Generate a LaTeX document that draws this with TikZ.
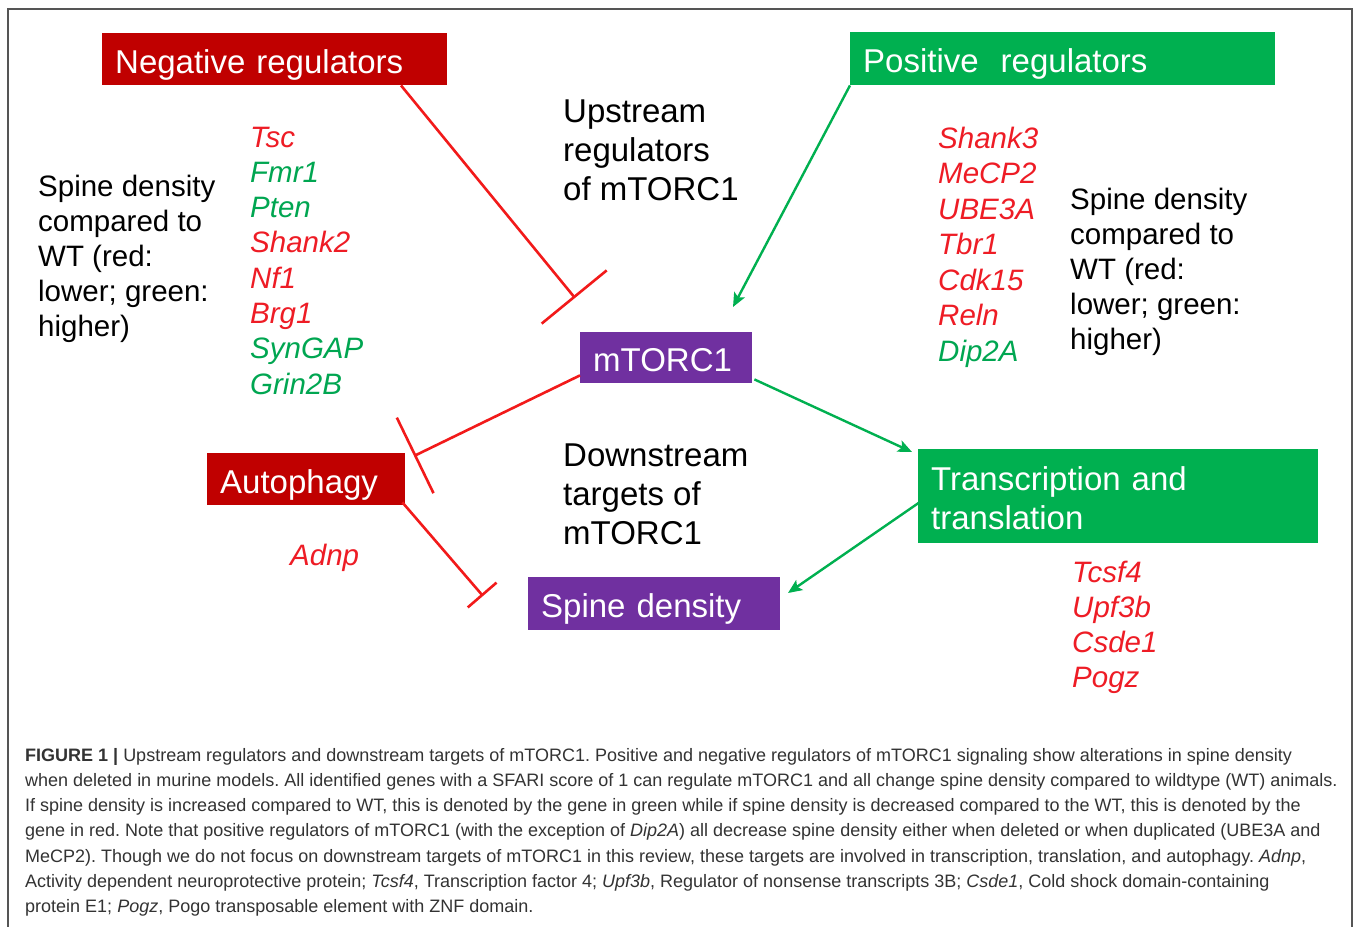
\documentclass[tikz,border=0pt]{standalone}
\usepackage{fontspec}
\setmainfont{Liberation Sans}
\usetikzlibrary{arrows.meta,calc}
\definecolor{boxred}{HTML}{C00000}
\definecolor{boxgreen}{HTML}{00B050}
\definecolor{boxpurple}{HTML}{7030A0}
\definecolor{genered}{HTML}{EE1C25}
\definecolor{genegreen}{HTML}{00A651}
\definecolor{linered}{HTML}{F21A1A}
\definecolor{linegreen}{HTML}{00B050}
\definecolor{captext}{HTML}{333333}
\definecolor{framegray}{HTML}{555555}
\frenchspacing
\begin{document}
\begin{tikzpicture}[x=1pt,y=-1pt,
  box/.style={rectangle, anchor=north west, text=white, inner xsep=13pt, inner ysep=0pt,
    align=left, font=\fontsize{33}{39}\selectfont, text height=30pt, text depth=2pt},
  gene/.style={anchor=base west, inner sep=0pt, font=\fontsize{29.5}{35}\selectfont\itshape},
  note/.style={anchor=base west, inner sep=0pt, font=\fontsize{29.5}{35}\selectfont},
  bignote/.style={anchor=base west, inner sep=0pt, font=\fontsize{33}{39}\selectfont},
  capline/.style={anchor=base west, inner sep=0pt, text=captext, font=\fontsize{18}{25.3}\selectfont},
  inhib/.style={draw=linered, line width=2.6pt},
  activ/.style={draw=linegreen, line width=2.4pt, -{Stealth[length=14pt,width=12pt,inset=3pt]}}
]
\useasboundingbox (0,0) rectangle (1354,926);
\fill[white] (0,0) rectangle (1354,926);
\draw[framegray, line width=1.5pt] (8,930) -- (8,9) -- (1352,9) -- (1352,930);

% boxes
\node[box, fill=boxred, text width=319pt, minimum height=52pt] (neg) at (102,33) {Negative regulators};
\node[box, fill=boxgreen, text width=399pt, minimum height=53pt] (pos) at (850,32) {Positive\ \ regulators};
\node[box, fill=boxpurple, text width=146pt, minimum height=51pt] (mt) at (580,332) {mTORC1};
\node[box, fill=boxred, text width=172pt, minimum height=52pt] (au) at (207,453) {Autophagy};
\node[box, fill=boxgreen, text width=374pt, minimum height=94pt, text height=30pt, text depth=42pt] (tt) at (918,449) {Transcription and\\translation};
\node[box, fill=boxpurple, text width=226pt, minimum height=53pt] (sd) at (528,577) {Spine density};

% left gene list
\foreach \g/\c [count=\i from 0] in {Tsc/genered, Fmr1/genegreen, Pten/genegreen, Shank2/genered, Nf1/genered, Brg1/genered, SynGAP/genegreen, Grin2B/genegreen}
  \node[gene, text=\c] (lg\i) at (250,{147+35.3*\i}) {\g};
% right gene list
\foreach \g/\c [count=\i from 0] in {Shank3/genered, MeCP2/genered, UBE3A/genered, Tbr1/genered, Cdk15/genered, Reln/genered, Dip2A/genegreen}
  \node[gene, text=\c] (rg\i) at (938,{148+35.5*\i}) {\g};
% downstream gene list
\foreach \g [count=\i from 0] in {Tcsf4, Upf3b, Csde1, Pogz}
  \node[gene, text=genered] (dg\i) at (1072,{582+35.3*\i}) {\g};
\node[gene, text=genered] (adnp) at (290,565) {Adnp};

% legends
\foreach \t [count=\i from 0] in {{Spine density}, {compared to}, {WT (red:}, {lower; green:}, {higher)}}
  \node[note] (ls\i) at (38,{196+35*\i}) {\t};
\foreach \t [count=\i from 0] in {{Spine density}, {compared to}, {WT (red:}, {lower; green:}, {higher)}}
  \node[note] (rs\i) at (1070,{209+35*\i}) {\t};
\foreach \t [count=\i from 0] in {{Upstream}, {regulators}, {of mTORC1}}
  \node[bignote] (up\i) at (563,{122+39*\i}) {\t};
\foreach \t [count=\i from 0] in {{Downstream}, {targets of}, {mTORC1}}
  \node[bignote] (dn\i) at (563,{466+39*\i}) {\t};

% connector end points
\coordinate (nb1) at (575,298);
\coordinate (nb2) at (414,456);
\coordinate (nb3) at (483,596);
\coordinate (pa) at (733,307);
\coordinate (ta) at (912,452);
\coordinate (sa) at (788,593);

% connectors
\draw[inhib, -{Bar[width=84pt]}] ($(neg.south west)+(299,0)$) -- (nb1);
\draw[activ] (pos.south west) -- (pa);
\draw[inhib, -{Bar[width=84pt]}] ($(mt.south west)+(0,-8)$) -- (nb2);
\draw[activ] ($(mt.south east)+(2,-4)$) -- (ta);
\draw[inhib, -{Bar[width=38pt]}] ($(au.south east)+(-3,-3)$) -- (nb3);
\draw[activ] ($(tt.west)+(6,3)$) -- (sa);

% caption
\node[capline] (cap0) at (25,761) {\textbf{FIGURE 1} \textbf{|} Upstream regulators and downstream targets of mTORC1. Positive and negative regulators of mTORC1 signaling show alterations in spine density};
\node[capline] (cap1) at (25,786.3) {when deleted in murine models. All identified genes with a SFARI score of 1 can regulate mTORC1 and all change spine density compared to wildtype (WT) animals.};
\node[capline] (cap2) at (25,811.6) {If spine density is increased compared to WT, this is denoted by the gene in green while if spine density is decreased compared to the WT, this is denoted by the};
\node[capline] (cap3) at (25,836.9) {gene in red. Note that positive regulators of mTORC1 (with the exception of \textit{Dip2A}) all decrease spine density either when deleted or when duplicated (UBE3A and};
\node[capline] (cap4) at (25,862.2) {MeCP2). Though we do not focus on downstream targets of mTORC1 in this review, these targets are involved in transcription, translation, and autophagy. \textit{Adnp},};
\node[capline] (cap5) at (25,887.5) {Activity dependent neuroprotective protein; \textit{Tcsf4}, Transcription factor 4; \textit{Upf3b}, Regulator of nonsense transcripts 3B; \textit{Csde1}, Cold shock domain-containing};
\node[capline] (cap6) at (25,912.8) {protein E1; \textit{Pogz}, Pogo transposable element with ZNF domain.};
\end{tikzpicture}
\end{document}
